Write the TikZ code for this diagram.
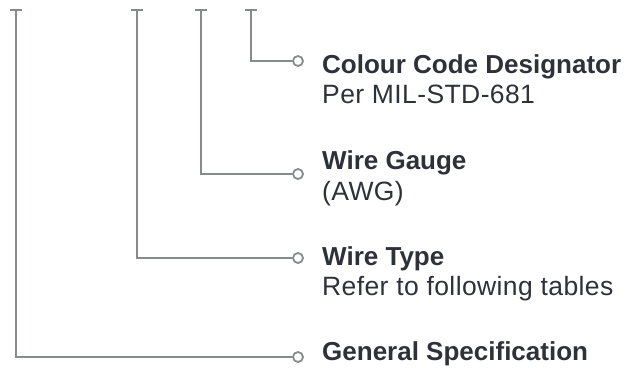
\documentclass[tikz,border=0pt]{standalone}
\usepackage{fontspec}
\setmainfont{Liberation Sans}
\definecolor{wire}{HTML}{878A8F}
\definecolor{ink}{HTML}{2E313A}
\begin{document}
\begin{tikzpicture}[x=1pt,y=-1pt,
  wireline/.style={draw=wire,line width=2pt},
  tbar/.style={draw=wire,line width=2pt},
  pin/.style={circle,draw=wire,fill=white,line width=1.8pt,minimum size=10pt,inner sep=0pt},
  ttl/.style={anchor=base west,inner sep=0pt,text=ink,font=\fontsize{26}{30}\selectfont\bfseries},
  sub/.style={anchor=base west,inner sep=0pt,text=ink,font=\fontsize{26.5}{30}\selectfont\addfontfeatures{LetterSpace=1.5}}]
\useasboundingbox (0,0) rectangle (639,367);
% top ends
\coordinate (t1) at (16,10);
\coordinate (t2) at (137,10);
\coordinate (t3) at (201,10);
\coordinate (t4) at (251,10);
\foreach \c in {t1,t2,t3,t4}{
  \draw[tbar] ([xshift=-6pt]\c) -- ([xshift=6pt]\c);
}
% pins
\node[pin] (p4) at (298,61) {};
\node[pin] (p3) at (298,174) {};
\node[pin] (p2) at (298,258) {};
\node[pin] (p1) at (298,357) {};
% connectors
\draw[wireline] (t4) |- (p4.west);
\draw[wireline] (t3) |- (p3.west);
\draw[wireline] (t2) |- (p2.west);
\draw[wireline] (t1) |- (p1.west);
% labels
\node[ttl] (l4a) at (322,73) {Colour Code Designator};
\node[sub] (l4b) at (322,103) {Per MIL-STD-681};
\node[ttl] (l3a) at (322,169) {Wire Gauge};
\node[sub] (l3b) at (322,200) {(AWG)};
\node[ttl] (l2a) at (322,265) {Wire Type};
\node[sub] (l2b) at (322,295) {Refer to following tables};
\node[ttl] (l1a) at (322,360) {General Specification};
\end{tikzpicture}
\end{document}
